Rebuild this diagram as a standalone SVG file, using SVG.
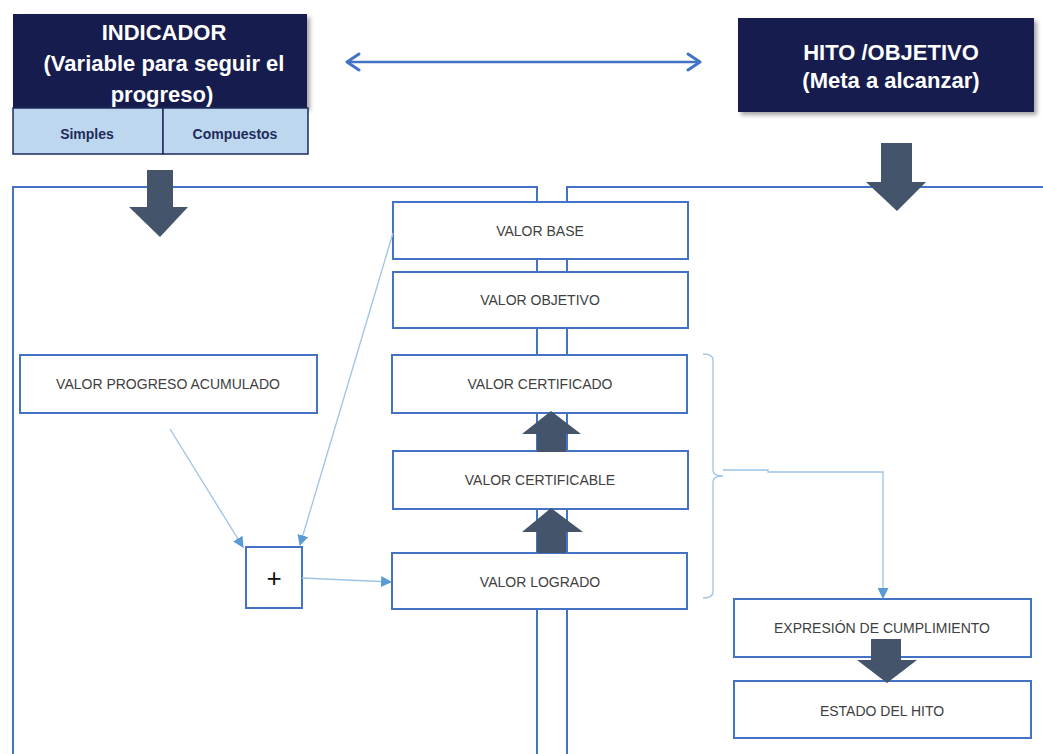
<svg xmlns="http://www.w3.org/2000/svg" width="1043" height="754" viewBox="0 0 1043 754">
<style>
.panel{fill:none;stroke:#4472C4;stroke-width:2}
.box{fill:#fff;stroke:#4472C4;stroke-width:2}
.lbl{font-family:"Liberation Sans",Arial,sans-serif;font-size:14px;fill:#404040;text-anchor:middle}
.title{font-family:"Liberation Sans",Arial,sans-serif;font-size:22px;font-weight:bold;fill:#fff;text-anchor:middle}
.sub{font-family:"Liberation Sans",Arial,sans-serif;font-size:14px;font-weight:bold;fill:#1F2A5C;text-anchor:middle}
.navy{fill:#171C4E}
.fat{fill:#44546A}
.thin{fill:none;stroke:#9DC3E6;stroke-width:1.3}
</style>
<defs>
<filter id="sh" x="-5%" y="-5%" width="115%" height="120%">
<feDropShadow dx="3" dy="3" stdDeviation="2" flood-color="#000" flood-opacity="0.35"/>
</filter>
<marker id="ah" viewBox="0 0 10 10" refX="9" refY="5" markerWidth="11" markerHeight="11" markerUnits="userSpaceOnUse" orient="auto">
<path d="M0,0 L10,5 L0,10 z" fill="#5B9BD5"/>
</marker>
<marker id="chev" viewBox="0 0 20 20" refX="18" refY="10" markerWidth="20" markerHeight="20" markerUnits="userSpaceOnUse" orient="auto-start-reverse">
<path d="M6,2 L18,10 L6,18" fill="none" stroke="#4472C4" stroke-width="3" stroke-linecap="round" stroke-linejoin="round"/>
</marker>
</defs>

<g id="panels">
<path class="panel" d="M13,754 V187 H537 V754"/>
<path class="panel" d="M567,754 V187 H1043"/>
</g>

<g id="indicador">
<rect class="navy" x="13" y="14" width="294" height="94" filter="url(#sh)"/>
<text class="title" x="164" y="40">INDICADOR</text>
<text class="title" x="164" y="71">(Variable para seguir el</text>
<text class="title" x="162" y="102">progreso)</text>
<rect x="13" y="108" width="150" height="46" fill="#BDD7EE" stroke="#1F2A5C" stroke-width="1.5"/>
<rect x="163" y="108" width="145" height="46" fill="#BDD7EE" stroke="#1F2A5C" stroke-width="1.5"/>
<text class="sub" x="87" y="139">Simples</text>
<text class="sub" x="235" y="139">Compuestos</text>
</g>

<g id="hito">
<rect class="navy" x="738" y="18" width="296" height="94" filter="url(#sh)"/>
<text class="title" x="891" y="60">HITO /OBJETIVO</text>
<text class="title" x="891" y="88">(Meta a alcanzar)</text>
</g>

<g id="valor-base"><rect class="box" x="393" y="202" width="295" height="57"/><text class="lbl" x="540" y="236">VALOR BASE</text></g>
<g id="valor-objetivo"><rect class="box" x="393" y="272" width="295" height="56"/><text class="lbl" x="540" y="305">VALOR OBJETIVO</text></g>
<g id="valor-certificado"><rect class="box" x="392" y="355" width="295" height="58"/><text class="lbl" x="540" y="389">VALOR CERTIFICADO</text></g>
<g id="valor-certificable"><rect class="box" x="393" y="451" width="295" height="58"/><text class="lbl" x="540" y="485">VALOR CERTIFICABLE</text></g>
<g id="valor-logrado"><rect class="box" x="392" y="553" width="295" height="56"/><text class="lbl" x="540" y="587">VALOR LOGRADO</text></g>
<g id="valor-progreso"><rect class="box" x="20" y="355" width="297" height="58"/><text class="lbl" x="168" y="389">VALOR PROGRESO ACUMULADO</text></g>
<g id="suma"><rect class="box" x="246" y="547" width="56" height="61"/><text x="274" y="587" font-family="Liberation Sans,Arial,sans-serif" font-size="26" fill="#111" text-anchor="middle">+</text></g>
<g id="expresion"><rect class="box" x="734" y="599" width="297" height="58"/><text class="lbl" x="882" y="633">EXPRESIÓN DE CUMPLIMIENTO</text></g>
<g id="estado"><rect class="box" x="734" y="681" width="297" height="57"/><text class="lbl" x="882" y="716">ESTADO DEL HITO</text></g>

<g id="connectors">
<line x1="347" y1="62" x2="700" y2="62" stroke="#4472C4" stroke-width="2.5" marker-start="url(#chev)" marker-end="url(#chev)"/>
<path class="fat" d="M147,170 H173 V207 H188 L160,237 L129,207 H147 Z"/>
<path class="fat" d="M881,143 H912 V182 H926 L897,211 L866,182 H881 Z"/>
<path class="fat" d="M537,452 V434 H522 L551,411 L581,434 H566 V452 Z"/>
<path class="fat" d="M537,553 V532 H522 L551,508 L583,532 H566 V553 Z"/>
<path class="fat" d="M871,639 H901 V660 H917 L887,683 L857,660 H871 Z"/>
<line class="thin" x1="170" y1="429" x2="243" y2="547" marker-end="url(#ah)"/>
<line class="thin" x1="393" y1="233" x2="300" y2="545" marker-end="url(#ah)"/>
<line class="thin" x1="302" y1="578" x2="391" y2="582" marker-end="url(#ah)"/>
<path class="thin" d="M703,354 Q713,354 713,360 V470 Q713,476 723,476 Q713,476 713,482 V592 Q713,598 703,598"/>
<path class="thin" d="M723,470 H768 V472 H883 V598" marker-end="url(#ah)"/>
</g>
</svg>
